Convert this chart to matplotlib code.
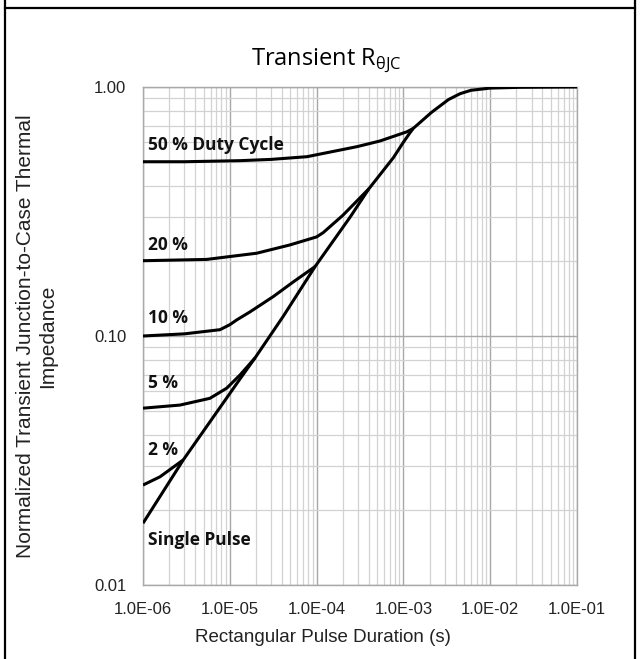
import matplotlib
matplotlib.use("Agg")
import matplotlib.pyplot as plt
from matplotlib.ticker import FixedLocator, LogLocator, NullFormatter, FixedFormatter
from matplotlib.lines import Line2D

plt.rcParams['font.family'] = ['Liberation Sans', 'DejaVu Sans']
plt.rcParams['mathtext.fontset'] = 'custom'
plt.rcParams['mathtext.rm'] = 'Open Sans'

# ---- data ----
single_x = [1.0e-6, 2.91e-6, 1.31e-5, 1.95e-5, 4.13e-5, 9.6e-5, 2.43e-4, 4.0e-4,
            7.66e-4, 1.0e-3, 1.19e-3, 1.3e-3, 2.1e-3, 3.3e-3, 4.5e-3, 6.0e-3,
            1.0e-2, 2.2e-2, 1.0e-1]
single_y = [0.0177, 0.0318, 0.0672, 0.0816, 0.12, 0.19, 0.30, 0.39,
            0.52, 0.60, 0.655, 0.682, 0.79, 0.89, 0.94, 0.97,
            0.99, 0.997, 1.0]

d50_x = [1.0e-6, 3.0e-6, 1.31e-5, 3.0e-5, 7.76e-5, 2.92e-4, 5.37e-4, 1.1e-3, 1.3e-3]
d50_y = [0.501, 0.501, 0.506, 0.512, 0.525, 0.576, 0.607, 0.661, 0.682]

d20_x = [1.0e-6, 5.4e-6, 2.04e-5, 4.9e-5, 1.0e-4, 1.19e-4, 2.0e-4, 4.0e-4]
d20_y = [0.2006, 0.203, 0.215, 0.232, 0.25, 0.26, 0.305, 0.39]

d10_x = [1.0e-6, 3.0e-6, 7.7e-6, 1.0e-5, 1.2e-5, 1.71e-5, 3.17e-5, 5.4e-5, 9.6e-5]
d10_y = [0.100, 0.102, 0.106, 0.111, 0.116, 0.125, 0.144, 0.165, 0.19]

d5_x = [1.0e-6, 2.67e-6, 5.9e-6, 9.2e-6, 1.31e-5, 1.95e-5]
d5_y = [0.0513, 0.0528, 0.0562, 0.0617, 0.0697, 0.0816]

d2_x = [1.0e-6, 1.57e-6, 2.91e-6]
d2_y = [0.0252, 0.0272, 0.0318]

series = [(single_x, single_y), (d50_x, d50_y), (d20_x, d20_y),
          (d10_x, d10_y), (d5_x, d5_y), (d2_x, d2_y)]

curve_labels = ["50 % Duty Cycle", "20 %", "10 %", "5 %", "2 %", "Single Pulse"]
label_x = [1.15e-6, 1.15e-6, 1.15e-6, 1.15e-6, 1.15e-6, 1.15e-6]
label_y = [0.585, 0.232, 0.118, 0.0646, 0.0347, 0.0152]

xticks = [1e-6, 1e-5, 1e-4, 1e-3, 1e-2, 1e-1]
xticklabels = ["1.0E-06", "1.0E-05", "1.0E-04", "1.0E-03", "1.0E-02", "1.0E-01"]
yticks = [0.01, 0.1, 1.0]
yticklabels = ["0.01", "0.10", "1.00"]

title_main = "Transient R"
title_sub = "θJC"
xlabel = "Rectangular Pulse Duration (s)"
ylabel = "Normalized Transient Junction-to-Case Thermal\nImpedance"

# ---- figure ----
W, H = 640, 659
fig = plt.figure(figsize=(W / 100, H / 100), dpi=100)
ax = fig.add_axes([143 / W, 1 - 585 / H, (577 - 143) / W, (585 - 87) / H])
ax.set_xscale('log')
ax.set_yscale('log')
ax.set_xlim(1e-6, 1e-1)
ax.set_ylim(0.01, 1.0)

ax.xaxis.set_major_locator(FixedLocator(xticks))
ax.xaxis.set_major_formatter(FixedFormatter(xticklabels))
ax.yaxis.set_major_locator(FixedLocator(yticks))
ax.yaxis.set_major_formatter(FixedFormatter(yticklabels))
ax.xaxis.set_minor_locator(LogLocator(base=10, subs=range(2, 10), numticks=20))
ax.yaxis.set_minor_locator(LogLocator(base=10, subs=range(2, 10), numticks=20))
ax.xaxis.set_minor_formatter(NullFormatter())
ax.yaxis.set_minor_formatter(NullFormatter())

ax.grid(which='major', color='#a8a8a8', linewidth=1.0)
ax.grid(which='minor', color='#d2d2d2', linewidth=0.9)
ax.set_axisbelow(True)
ax.tick_params(which='both', length=0)
ax.tick_params(axis='both', labelsize=12, colors='#222222')
ax.tick_params(axis='x', pad=12)
ax.tick_params(axis='y', pad=12)
for s in ax.spines.values():
    s.set_color('#a8a8a8')
    s.set_linewidth(1.0)

for xs, ys in series:
    ax.plot(xs, ys, color='black', linewidth=2.2, solid_capstyle='butt',
            solid_joinstyle='round', zorder=3)

for t, lx, ly in zip(curve_labels, label_x, label_y):
    ax.text(lx, ly, t, fontsize=12.5, fontweight='bold', family='Open Sans',
            ha='left', va='center', color='#111111', zorder=4)

fig.text(326 / W, 1 - 61 / H, title_main + r"$_{\mathregular{" + title_sub + "}}$",
         fontsize=17, family='Open Sans', ha='center', va='center')
fig.text(323 / W, 1 - 638 / H, xlabel, fontsize=13.5, ha='center', va='center',
         color='#222222')
fig.text(37 / W, 1 - 336 / H, ylabel, fontsize=15, rotation=90, ha='center',
         va='center', multialignment='center', color='#222222')

# border lines (table cell)
fig.add_artist(Line2D([5 / W, 5 / W], [0, 1], color='black', linewidth=1.6))
fig.add_artist(Line2D([635 / W, 635 / W], [0, 1], color='black', linewidth=1.6))
fig.add_artist(Line2D([5 / W, 635 / W], [1 - 7.5 / H, 1 - 7.5 / H], color='black', linewidth=1.6))

fig.savefig("out.png", dpi=100)
